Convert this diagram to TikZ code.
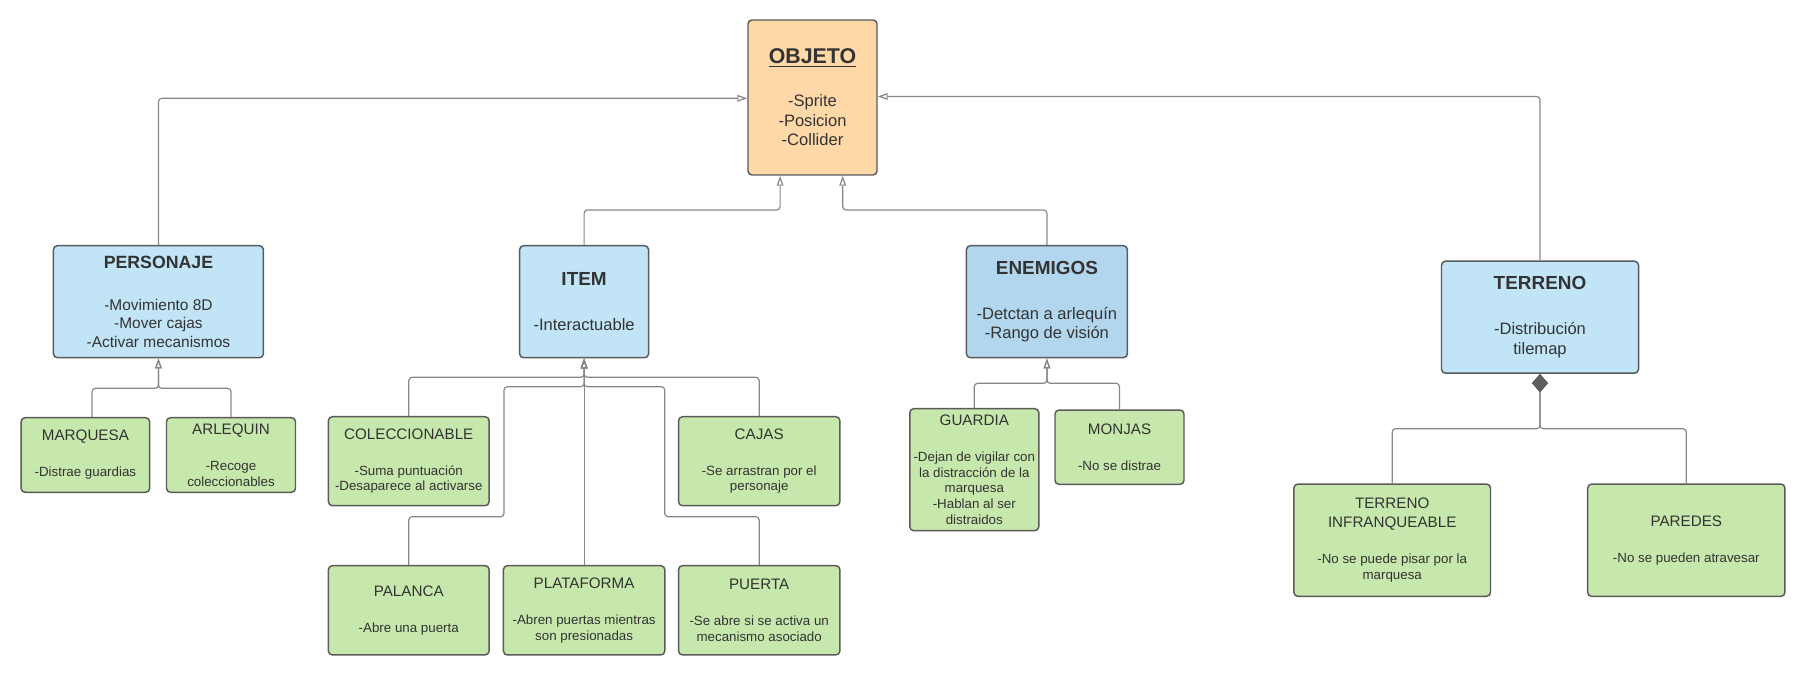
\documentclass[tikz,border=0pt]{standalone}
\usepackage{fontspec}
\setmainfont{Liberation Sans}
\usetikzlibrary{arrows.meta,calc}
\definecolor{orangef}{HTML}{FFD8A8}
\definecolor{bluef}{HTML}{C1E4F7}
\definecolor{enemf}{HTML}{B3D6EF}
\definecolor{greenf}{HTML}{C7E8AC}
\definecolor{bordc}{HTML}{5A5A5A}
\definecolor{linec}{HTML}{888888}
\definecolor{txtc}{HTML}{333333}
\definecolor{diac}{HTML}{5E5E5E}
\newcommand{\bt}[2]{{\fontsize{#1}{#1}\selectfont\bfseries #2}}
\newcommand{\gt}[1]{{\fontsize{11.4}{14}\selectfont #1}}
\tikzset{
  box/.style={draw=bordc, line width=1.1pt, rounded corners=3pt, align=center, inner sep=0pt, text=txtc},
  sz/.style 2 args={minimum width=#1*0.75pt, minimum height=#2*0.75pt},
  bluebox/.style={box, fill=bluef},
  greenbox/.style={box, fill=greenf, font=\fontsize{10}{11.8}\selectfont},
  inh/.style={draw=linec, line width=0.9pt, rounded corners=2.5pt, -{Triangle[open, length=7.5pt, width=5pt]}},
  compo/.style={draw=linec, line width=0.9pt, rounded corners=2.5pt, {Diamond[length=13.8pt, width=12pt, color=diac]}-},
}
\begin{document}
\begin{tikzpicture}[x=0.75pt, y=-0.75pt]
\useasboundingbox (0,0) rectangle (1807,677);

% top
\node[box, fill=orangef, sz={129}{155}, font=\fontsize{12.4}{14.6}\selectfont] (objeto) at (812.5,97.5)
  {\bt{16}{\underline{OBJETO}}\\[17.8pt]-Sprite\\-Posicion\\-Collider};

% level 2
\node[bluebox, sz={210}{112}, font=\fontsize{11.6}{14}\selectfont] (personaje) at (158.45,301.7)
  {\bt{13.3}{PERSONAJE}\\[17.5pt]-Movimiento 8D\\-Mover cajas\\-Activar mecanismos};
\node[bluebox, sz={129}{112}, font=\fontsize{12.4}{14.25}\selectfont] (item) at (584.1,301.7)
  {\bt{14.2}{ITEM}\\[19.8pt]-Interactuable};
\node[box, fill=enemf, sz={161}{112}, font=\fontsize{12.4}{14.25}\selectfont] (enemigos) at (1046.9,301.7)
  {\bt{14.2}{ENEMIGOS}\\[19.5pt]-Detctan a arlequín\\-Rango de visión};
\node[bluebox, sz={197}{112}, font=\fontsize{12.4}{15}\selectfont] (terreno) at (1540,317.2)
  {\bt{14.2}{TERRENO}\\[18.75pt]-Distribución\\tilemap};

% level 3
\node[greenbox, sz={128.5}{74.6}] (marquesa) at (85.4,455) {\gt{MARQUESA}\\[15.2pt]-Distrae guardias};
\node[greenbox, sz={129}{74.6}] (arlequin) at (231,455) {\gt{ARLEQUIN}\\[15.2pt]-Recoge\\coleccionables};

\node[greenbox, sz={160.7}{89}] (coleccionable) at (408.75,461.2) {\gt{COLECCIONABLE}\\[15.2pt]-Suma puntuación\\-Desaparece al activarse};
\node[greenbox, sz={161.3}{89}] (cajas) at (759.2,461.2) {\gt{CAJAS}\\[15.2pt]-Se arrastran por el\\personaje};
\node[greenbox, sz={160.7}{89.3}] (palanca) at (408.75,610.3) {\gt{PALANCA}\\[15.2pt]-Abre una puerta};
\node[greenbox, sz={161.4}{89.3}] (plataforma) at (584.1,610.3) {\gt{PLATAFORMA}\\[15.2pt]-Abren puertas mientras\\son presionadas};
\node[greenbox, sz={161.3}{89.3}] (puerta) at (759.2,610.3) {\gt{PUERTA}\\[15.2pt]-Se abre si se activa un\\mecanismo asociado};

\node[greenbox, sz={129}{122}] (guardia) at (974.3,469.7) {\gt{GUARDIA}\\[15.2pt]-Dejan de vigilar con\\la distracción de la\\marquesa\\-Hablan al ser\\distraidos};
\node[greenbox, sz={129}{74.3}] (monjas) at (1119.5,447.2) {\gt{MONJAS}\\[15.2pt]-No se distrae};

\node[greenbox, sz={196.6}{112.3}] (infranq) at (1392.2,540.2) {\gt{TERRENO}\\[2.2pt]\gt{INFRANQUEABLE}\\[15.2pt]-No se puede pisar por la\\marquesa};
\node[greenbox, sz={197.2}{112.3}] (paredes) at (1686.3,540.2) {\gt{PAREDES}\\[15.2pt]-No se pueden atravesar};

% helper coordinates
\coordinate (oL) at ($(objeto.south)+(-32.4,0)$);
\coordinate (oR) at ($(objeto.south)+(30.2,0)$);
\coordinate (oE) at ($(objeto.east)+(0,-1)$);
\coordinate (oW) at ($(objeto.west)+(0,0.8)$);
\coordinate (pb) at (158.45,388.3);
\coordinate (mq) at ($(marquesa.north)+(6.6,0)$);
\coordinate (ib1) at (584.1,377.3);
\coordinate (ib2) at (584.1,386.7);
\coordinate (pl) at (504,516.7);
\coordinate (pr) at (664.7,516.7);
\coordinate (eb) at (1046.9,383.3);
\coordinate (tb) at (1540,428.7);

% connectors to OBJETO
\draw[inh] (personaje.north) |- (oW);
\draw[inh] (terreno.north) |- (oE);
\draw[inh] (item.north) -- ++(0,-35) -| (oL);
\draw[inh] (enemigos.north) -- ++(0,-35) -| (oR);

% PERSONAJE children
\draw[inh] (mq) |- (pb) -- (personaje.south);
\draw[inh] (arlequin.north) |- (pb) -- (personaje.south);

% ITEM children
\draw[inh] (coleccionable.north) |- (ib1) -- (item.south);
\draw[inh] (cajas.north) |- (ib1) -- (item.south);
\draw[inh] (palanca.north) |- (pl) |- (ib2) -- (item.south);
\draw[inh] (puerta.north) |- (pr) |- (ib2) -- (item.south);
\draw[inh] (plataforma.north) -- (item.south);

% ENEMIGOS children
\draw[inh] (guardia.north) |- (eb) -- (enemigos.south);
\draw[inh] (monjas.north) |- (eb) -- (enemigos.south);

% TERRENO composition
\draw[compo] (terreno.south) -- (tb) -| (infranq.north);
\draw[compo] (terreno.south) -- (tb) -| (paredes.north);
\end{tikzpicture}
\end{document}
